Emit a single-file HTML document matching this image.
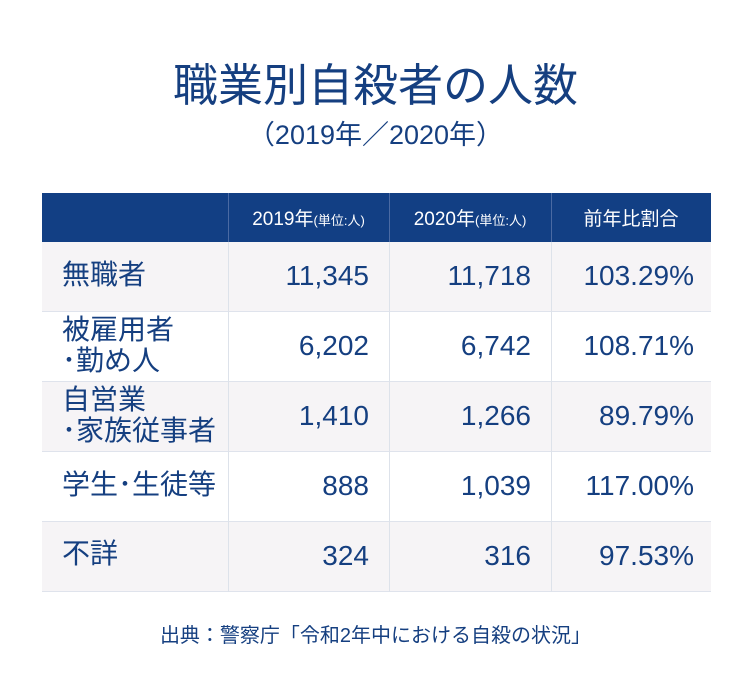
<!DOCTYPE html>
<html><head><meta charset="utf-8"><style>
body{margin:0;width:751px;height:688px;background:#fff;position:relative;overflow:hidden;font-family:"Liberation Sans","Noto Sans CJK JP",sans-serif;color:#153f80}
.a{position:absolute;white-space:nowrap}
.hd{position:absolute;left:42px;top:193px;width:669px;height:49px;background:#123f84}
.row{position:absolute;left:42px;width:669px;height:70px;border-bottom:1px solid #dfe3ec;box-sizing:border-box}
.vl{position:absolute;top:193px;height:399px;width:1px;background:#dde2ea}
.h{color:#fff;font-size:19px;top:204px;text-align:center}
.h small{font-size:13px}
.n{font-size:28px;text-align:right}
.lab{font-size:28px;left:62px;line-height:31px}
</style></head><body>
<div class="a" style="left:0;width:751px;text-align:center;top:52px;font-size:45px;font-weight:400;color:#153f80;font-family:'Noto Sans CJK JP',sans-serif;line-height:60px">職業別自殺者の人数</div>
<div class="a" style="left:0;width:751px;text-align:center;top:113px;font-size:27px;color:#153f80">（2019年／2020年）</div>
<div class="hd"></div>
<div class="row" style="top:242px;background:#f6f4f6"></div>
<div class="row" style="top:312px;background:#fff"></div>
<div class="row" style="top:382px;background:#f6f4f6"></div>
<div class="row" style="top:452px;background:#fff"></div>
<div class="row" style="top:522px;background:#f6f4f6"></div>
<div class="vl" style="left:228px;background:#4a6aa3"></div>
<div class="vl" style="left:389px;background:#4a6aa3"></div>
<div class="vl" style="left:551px;background:#4a6aa3"></div>
<div class="vl" style="left:228px;top:242px;height:350px"></div>
<div class="vl" style="left:389px;top:242px;height:350px"></div>
<div class="vl" style="left:551px;top:242px;height:350px"></div>
<div class="a h" style="left:228px;width:161px">2019年<small>(単位:人)</small></div>
<div class="a h" style="left:389px;width:162px">2020年<small>(単位:人)</small></div>
<div class="a h" style="left:551px;width:160px">前年比割合</div>

<div class="a lab" style="top:259px">無職者</div>
<div class="a lab" style="top:314px">被雇用者<br>･勤め人</div>
<div class="a lab" style="top:384px">自営業<br>･家族従事者</div>
<div class="a lab" style="top:469px">学生･生徒等</div>
<div class="a lab" style="top:538px">不詳</div>

<div class="a n" style="top:260px;right:382px">11,345</div>
<div class="a n" style="top:260px;right:220px">11,718</div>
<div class="a n" style="top:260px;right:57px">103.29%</div>
<div class="a n" style="top:330px;right:382px">6,202</div>
<div class="a n" style="top:330px;right:220px">6,742</div>
<div class="a n" style="top:330px;right:57px">108.71%</div>
<div class="a n" style="top:400px;right:382px">1,410</div>
<div class="a n" style="top:400px;right:220px">1,266</div>
<div class="a n" style="top:400px;right:57px">89.79%</div>
<div class="a n" style="top:470px;right:382px">888</div>
<div class="a n" style="top:470px;right:220px">1,039</div>
<div class="a n" style="top:470px;right:57px">117.00%</div>
<div class="a n" style="top:540px;right:382px">324</div>
<div class="a n" style="top:540px;right:220px">316</div>
<div class="a n" style="top:540px;right:57px">97.53%</div>

<div class="a" style="left:0;width:751px;text-align:center;top:619px;font-size:20px">出典：警察庁「令和2年中における自殺の状況」</div>
</body></html>
